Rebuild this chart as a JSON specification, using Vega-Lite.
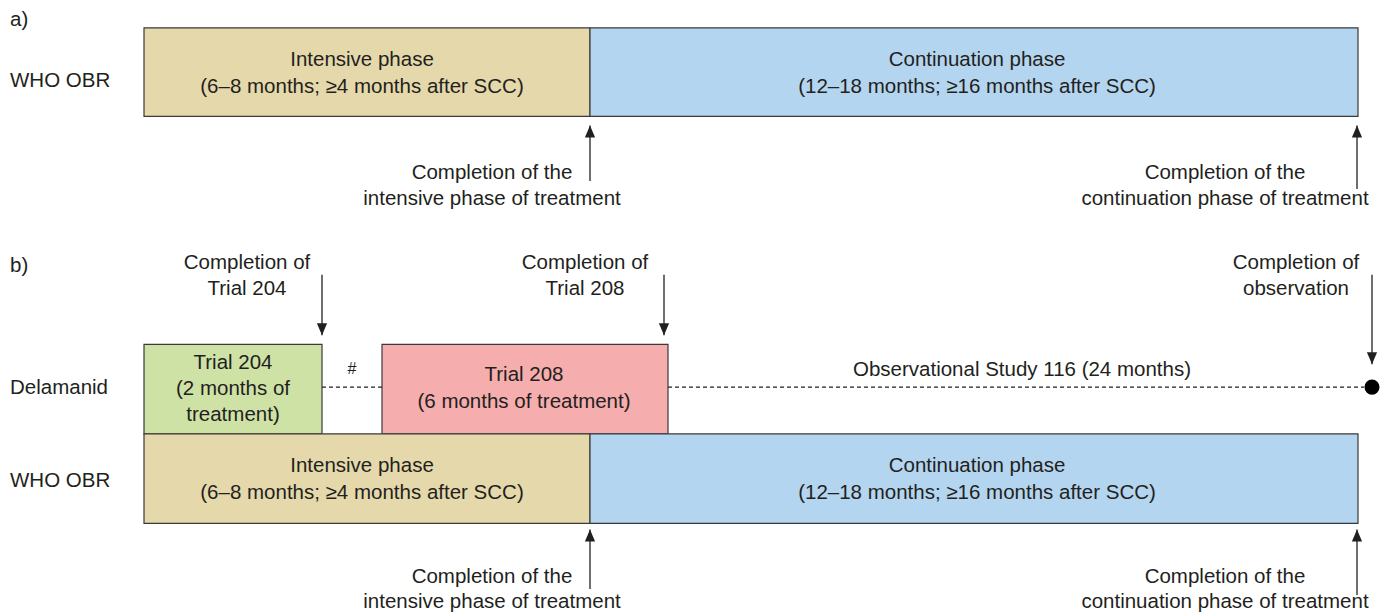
{
  "$schema": "https://vega.github.io/schema/vega-lite/v6.json",
  "autosize": {"type": "fit", "contains": "padding"},
  "width": 1391,
  "height": 613,
  "padding": 0,
  "background": "white",
  "config": {"view": {"stroke": null}, "text": {"font": "Liberation Sans", "fontSize": 20.5, "color": "#231f20"}},
  "datasets": {
    "boxes": [
      {"box": "a-intensive", "phase": "intensive", "x0": 144, "x1": 590, "y0": 28, "y1": 117},
      {"box": "a-continuation", "phase": "continuation", "x0": 590, "x1": 1358, "y0": 28, "y1": 117},
      {"box": "trial204", "phase": "trial204", "x0": 144, "x1": 322, "y0": 346, "y1": 436},
      {"box": "trial208", "phase": "trial208", "x0": 382, "x1": 668, "y0": 346, "y1": 436},
      {"box": "b-intensive", "phase": "intensive", "x0": 144, "x1": 590, "y0": 436, "y1": 526},
      {"box": "b-continuation", "phase": "continuation", "x0": 590, "x1": 1358, "y0": 436, "y1": 526}
    ],
    "labels": [
      {"x": 10, "y": 20, "text": "a)"},
      {"x": 10, "y": 81, "text": "WHO OBR"},
      {"x": 10, "y": 267, "text": "b)"},
      {"x": 10, "y": 390, "text": "Delamanid"},
      {"x": 10, "y": 483, "text": "WHO OBR"}
    ],
    "texts": [
      {"x": 362, "y": 60, "text": "Intensive phase"},
      {"x": 362, "y": 87, "text": "(6–8 months; ≥4 months after SCC)"},
      {"x": 977, "y": 60, "text": "Continuation phase"},
      {"x": 977, "y": 87, "text": "(12–18 months; ≥16 months after SCC)"},
      {"x": 492, "y": 174, "text": "Completion of the"},
      {"x": 492, "y": 200, "text": "intensive phase of treatment"},
      {"x": 1225, "y": 174, "text": "Completion of the"},
      {"x": 1225, "y": 200, "text": "continuation phase of treatment"},
      {"x": 247, "y": 264, "text": "Completion of"},
      {"x": 247, "y": 290, "text": "Trial 204"},
      {"x": 585, "y": 264, "text": "Completion of"},
      {"x": 585, "y": 290, "text": "Trial 208"},
      {"x": 1296, "y": 264, "text": "Completion of"},
      {"x": 1296, "y": 290, "text": "observation"},
      {"x": 233, "y": 365, "text": "Trial 204"},
      {"x": 233, "y": 391, "text": "(2 months of"},
      {"x": 233, "y": 417, "text": "treatment)"},
      {"x": 524, "y": 377, "text": "Trial 208"},
      {"x": 524, "y": 404, "text": "(6 months of treatment)"},
      {"x": 1022, "y": 372, "text": "Observational Study 116 (24 months)"},
      {"x": 362, "y": 468, "text": "Intensive phase"},
      {"x": 362, "y": 495, "text": "(6–8 months; ≥4 months after SCC)"},
      {"x": 977, "y": 468, "text": "Continuation phase"},
      {"x": 977, "y": 495, "text": "(12–18 months; ≥16 months after SCC)"},
      {"x": 492, "y": 580, "text": "Completion of the"},
      {"x": 492, "y": 605, "text": "intensive phase of treatment"},
      {"x": 1225, "y": 580, "text": "Completion of the"},
      {"x": 1225, "y": 605, "text": "continuation phase of treatment"}
    ],
    "notes": [
      {"x": 352, "y": 371, "text": "#"}
    ],
    "arrows": [
      {"x": 590, "tail": 182, "tip": 126, "dir": "up"},
      {"x": 1357, "tail": 190, "tip": 126, "dir": "up"},
      {"x": 322, "tail": 276, "tip": 337, "dir": "down"},
      {"x": 664, "tail": 276, "tip": 337, "dir": "down"},
      {"x": 1372, "tail": 276, "tip": 366, "dir": "down"},
      {"x": 590, "tail": 592, "tip": 532, "dir": "up"},
      {"x": 1357, "tail": 598, "tip": 532, "dir": "up"}
    ],
    "dashes": [
      {"x0": 322, "x1": 382, "y": 389},
      {"x0": 668, "x1": 1364, "y": 389}
    ],
    "dots": [
      {"x": 1372, "y": 389}
    ]
  },
  "layer": [
    {
      "data": {"name": "boxes"},
      "mark": {"type": "rect", "stroke": "#3a3a3a", "strokeWidth": 1.2},
      "encoding": {
        "x": {"field": "x0", "type": "quantitative", "scale": {"domain": [0, 1391], "nice": false, "zero": false}, "axis": null},
        "x2": {"field": "x1"},
        "y": {"field": "y0", "type": "quantitative", "scale": {"domain": [0, 613], "nice": false, "zero": false, "reverse": true}, "axis": null},
        "y2": {"field": "y1"},
        "fill": {"field": "phase", "type": "nominal", "legend": null,
          "scale": {"domain": ["intensive", "continuation", "trial204", "trial208"], "range": ["#e5d8aa", "#b4d5ef", "#cfe2a6", "#f6adad"]}}
      }
    },
    {
      "data": {"name": "dashes"},
      "mark": {"type": "rule", "stroke": "#231f20", "strokeWidth": 1.2, "strokeDash": [4, 3]},
      "encoding": {
        "x": {"field": "x0", "type": "quantitative"},
        "x2": {"field": "x1"},
        "y": {"field": "y", "type": "quantitative"}
      }
    },
    {
      "data": {"name": "dots"},
      "mark": {"type": "point", "shape": "circle", "filled": true, "color": "#000000", "size": 227, "opacity": 1},
      "encoding": {
        "x": {"field": "x", "type": "quantitative"},
        "y": {"field": "y", "type": "quantitative"}
      }
    },
    {
      "data": {"name": "arrows"},
      "mark": {"type": "rule", "stroke": "#231f20", "strokeWidth": 1.3},
      "encoding": {
        "x": {"field": "x", "type": "quantitative"},
        "y": {"field": "tail", "type": "quantitative"},
        "y2": {"field": "tip"}
      }
    },
    {
      "data": {"name": "arrows"},
      "transform": [{"filter": "datum.dir === 'up'"}],
      "mark": {"type": "point", "shape": "M0,-1L0.85,1L-0.85,1Z", "filled": true, "color": "#231f20", "size": 144, "opacity": 1, "yOffset": 6},
      "encoding": {
        "x": {"field": "x", "type": "quantitative"},
        "y": {"field": "tip", "type": "quantitative"}
      }
    },
    {
      "data": {"name": "arrows"},
      "transform": [{"filter": "datum.dir === 'down'"}],
      "mark": {"type": "point", "shape": "M0,1L0.85,-1L-0.85,-1Z", "filled": true, "color": "#231f20", "size": 144, "opacity": 1, "yOffset": -6},
      "encoding": {
        "x": {"field": "x", "type": "quantitative"},
        "y": {"field": "tip", "type": "quantitative"}
      }
    },
    {
      "data": {"name": "labels"},
      "mark": {"type": "text", "align": "left", "baseline": "middle"},
      "encoding": {
        "x": {"field": "x", "type": "quantitative"},
        "y": {"field": "y", "type": "quantitative"},
        "text": {"field": "text", "type": "nominal"}
      }
    },
    {
      "data": {"name": "texts"},
      "mark": {"type": "text", "align": "center", "baseline": "middle"},
      "encoding": {
        "x": {"field": "x", "type": "quantitative"},
        "y": {"field": "y", "type": "quantitative"},
        "text": {"field": "text", "type": "nominal"}
      }
    },
    {
      "data": {"name": "notes"},
      "mark": {"type": "text", "align": "center", "baseline": "middle", "fontSize": 16},
      "encoding": {
        "x": {"field": "x", "type": "quantitative"},
        "y": {"field": "y", "type": "quantitative"},
        "text": {"field": "text", "type": "nominal"}
      }
    }
  ]
}
